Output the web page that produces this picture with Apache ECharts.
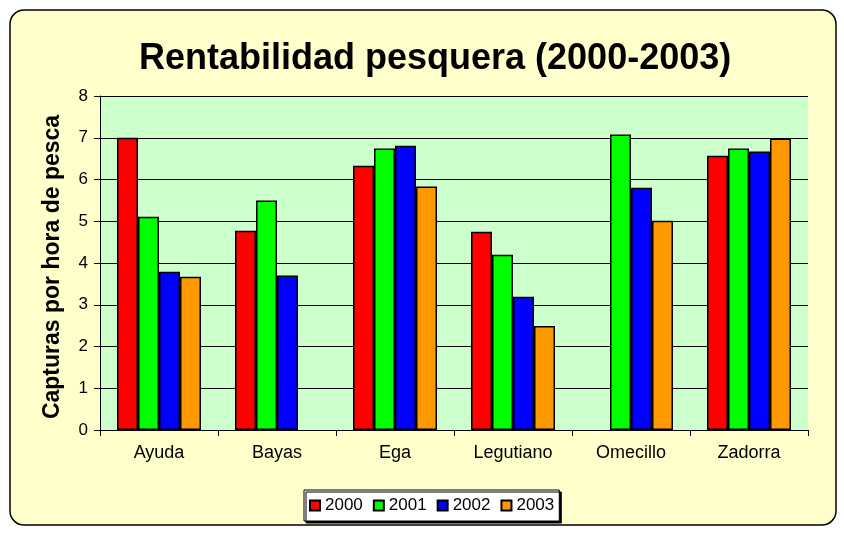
<!DOCTYPE html>
<html>
<head>
<meta charset="utf-8">
<script src="https://cdn.jsdelivr.net/npm/echarts@6/dist/echarts.min.js"></script>
<style>
  html, body { margin: 0; padding: 0; background: #fff; }
  #main { width: 844px; height: 533px; }
</style>
</head>
<body>
<div id="main"></div>
<script>
// rivers and yearly catch per hour
const rios = ['Ayuda', 'Bayas', 'Ega', 'Legutiano', 'Omecillo', 'Zadorra'];
const y2000 = [7.00, 4.77, 6.33, 4.75, null, 6.57];
const y2001 = [5.11, 5.50, 6.74, 4.20, 7.08, 6.74];
const y2002 = [3.79, 3.70, 6.81, 3.19, 5.80, 6.67];
const y2003 = [3.67, null, 5.83, 2.49, 5.01, 6.98];

const years = ['2000', '2001', '2002', '2003'];
const colores = ['#ff0000', '#00ff00', '#0000ff', '#ff9900'];
const valores = [y2000, y2001, y2002, y2003];

const chart = echarts.init(document.getElementById('main'));

const font = 'Liberation Sans, Arial, sans-serif';

chart.setOption({
    animation: false,
    backgroundColor: '#ffffff',
    textStyle: { fontFamily: font },
    graphic: [{
        type: 'rect',
        z: -10,
        shape: { x: 10, y: 10, width: 826, height: 515, r: 14 },
        style: { fill: '#ffffcc', stroke: '#000', lineWidth: 1.5 }
    }],
    title: {
        text: 'Rentabilidad pesquera (2000-2003)',
        left: 134,
        top: 36,
        textStyle: { fontSize: 36, fontWeight: 'bold', color: '#000', fontFamily: font }
    },
    legend: {
        bottom: 12,
        left: 304,
        itemWidth: 10,
        itemHeight: 10,
        itemGap: 10,
        padding: [7, 5, 7, 5],
        backgroundColor: '#ffffff',
        borderColor: '#000',
        borderWidth: 1,
        shadowColor: '#000',
        shadowOffsetX: 2,
        shadowOffsetY: 2,
        icon: 'rect',
        textStyle: { fontSize: 17, color: '#000', fontFamily: font },
        data: years
    },
    grid: {
        left: 100,
        right: 36,
        top: 96,
        bottom: 103,
        show: true,
        backgroundColor: '#ccffcc',
        borderWidth: 0
    },
    xAxis: {
        type: 'category',
        data: rios,
        axisLine: { lineStyle: { color: '#000', width: 1 } },
        axisTick: { show: true, length: 6, lineStyle: { color: '#000' } },
        axisLabel: { fontSize: 18, color: '#000', margin: 14 }
    },
    yAxis: {
        type: 'value',
        min: 0,
        max: 8,
        interval: 1,
        name: 'Capturas por hora de pesca',
        nameLocation: 'middle',
        nameGap: 36,
        nameTextStyle: { fontSize: 23, fontWeight: 'bold', color: '#000', padding: [0, 8, 0, 0] },
        axisLine: { show: true, lineStyle: { color: '#000' } },
        axisTick: { show: true, length: 6, lineStyle: { color: '#000' } },
        axisLabel: { fontSize: 17, color: '#000', margin: 12 },
        splitLine: { lineStyle: { color: '#000', width: 1 } }
    },
    series: years.map((y, i) => ({
        name: y,
        type: 'bar',
        data: valores[i],
        barWidth: 21,
        barGap: 0,
        itemStyle: { color: colores[i], borderColor: '#000', borderWidth: 1.5 }
    }))
});
</script>
</body>
</html>
